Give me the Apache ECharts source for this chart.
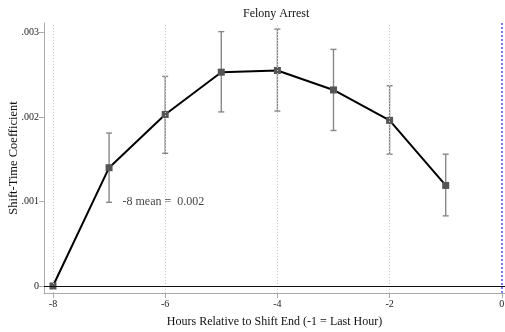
<!DOCTYPE html>
<html><head><meta charset="utf-8">
<script src="https://cdn.jsdelivr.net/npm/echarts@6/dist/echarts.min.js"></script>
<style>html,body{margin:0;padding:0;background:#fff}#c{width:505px;height:332px}</style>
</head><body><div id="c"></div>
<script>
var hours = [-8, -7, -6, -5, -4, -3, -2, -1];
var coef = [0, 0.00140, 0.00203, 0.00253, 0.00255, 0.00232, 0.00196, 0.00119];
var ciLow = [null, 0.00099, 0.00157, 0.00206, 0.00207, 0.00184, 0.00156, 0.00083];
var ciHigh = [null, 0.00181, 0.00248, 0.00301, 0.00304, 0.00280, 0.00237, 0.00156];
var xTicks = [-8, -6, -4, -2, 0];
var yTicks = [0, 0.001, 0.002, 0.003];
var yTickLabels = ["0", ".001", ".002", ".003"];
var titleText = "Felony Arrest";
var xName = "Hours Relative to Shift End (-1 = Last Hour)";
var yName = "Shift-Time Coefficient";
var noteText = "-8 mean =  0.002";
var notePos = [-6.76, 0.001];

var font = "'Liberation Serif', 'DejaVu Serif', serif";
var chart = echarts.init(document.getElementById('c'), null, {renderer: 'canvas'});

var lineData = hours.map(function (h, i) { return [h, coef[i]]; });
var errData = [];
hours.forEach(function (h, i) { if (ciLow[i] != null) errData.push([h, ciLow[i], ciHigh[i]]); });

var gridLines = [];
xTicks.forEach(function (v) { if (v !== 0) gridLines.push({xAxis: v}); });
yTicks.forEach(function (v) { if (v !== 0) gridLines.push({yAxis: v}); });

chart.setOption({
  animation: false,
  title: {text: titleText, left: 238, top: 3,
    textStyle: {fontFamily: font, fontSize: 12, fontWeight: 'normal', color: '#111'}},
  grid: {left: 44, right: 0, top: 23, bottom: 39, containLabel: false, outerBoundsMode: 'none'},
  xAxis: {
    type: 'value', min: -8.16, max: 0.057,
    name: xName, nameLocation: 'middle', nameGap: 23, nameMoveOverlap: false,
    nameTextStyle: {fontFamily: font, fontSize: 12, color: '#111'},
    axisLine: {show: true, onZero: false, lineStyle: {color: '#aaa', width: 1}},
    axisTick: {show: true, customValues: xTicks, length: 5, lineStyle: {color: '#aaa'}},
    axisLabel: {customValues: xTicks, fontFamily: font, fontSize: 10, color: '#222', margin: 6},
    splitLine: {show: false}
  },
  yAxis: {
    type: 'value', min: -0.0000828, max: 0.003112,
    name: yName, nameLocation: 'middle', nameGap: 24, nameMoveOverlap: false,
    nameTextStyle: {fontFamily: font, fontSize: 12.5, color: '#111'},
    axisLine: {show: true, onZero: false, lineStyle: {color: '#aaa', width: 1}},
    axisTick: {show: true, customValues: yTicks, length: 5, lineStyle: {color: '#aaa'}},
    axisLabel: {customValues: yTicks, fontFamily: font, fontSize: 10, color: '#222', margin: 5,
      formatter: function (v) {
        for (var i = 0; i < yTicks.length; i++) if (Math.abs(v - yTicks[i]) < 1e-9) return yTickLabels[i];
        return '';
      }},
    splitLine: {show: false}
  },
  series: [
    {
      type: 'line', data: [], silent: true,
      markLine: {
        silent: true, symbol: 'none', label: {show: false},
        lineStyle: {color: '#ccc', type: [1, 2], width: 1},
        data: gridLines
      }
    },
    {
      type: 'line', data: [], silent: true,
      markLine: {
        silent: true, symbol: 'none', label: {show: false},
        data: [
          {yAxis: 0, lineStyle: {color: '#111', type: 'solid', width: 1.2}},
          {xAxis: 0, lineStyle: {color: '#5a5aff', type: [2, 2], width: 1.6}}
        ]
      }
    },
    {
      type: 'custom', data: errData, z: 3,
      renderItem: function (params, api) {
        var x = api.value(0);
        var lo = api.coord([x, api.value(1)]);
        var hi = api.coord([x, api.value(2)]);
        var w = 3;
        var st = {stroke: '#888', lineWidth: 1.4};
        return {type: 'group', children: [
          {type: 'line', shape: {x1: lo[0], y1: lo[1], x2: hi[0], y2: hi[1]}, style: st},
          {type: 'line', shape: {x1: lo[0] - w, y1: lo[1], x2: lo[0] + w, y2: lo[1]}, style: st},
          {type: 'line', shape: {x1: hi[0] - w, y1: hi[1], x2: hi[0] + w, y2: hi[1]}, style: st}
        ]};
      }
    },
    {
      type: 'line', data: lineData, z: 4,
      lineStyle: {color: '#000', width: 2},
      symbol: 'rect', symbolSize: 7, showSymbol: true,
      itemStyle: {color: '#555'}
    },
    {
      type: 'scatter', data: [notePos], symbolSize: 0, z: 5,
      label: {show: true, position: 'right', distance: 0, formatter: noteText,
        fontFamily: font, fontSize: 12, color: '#111'}
    }
  ]
});
</script></body></html>
